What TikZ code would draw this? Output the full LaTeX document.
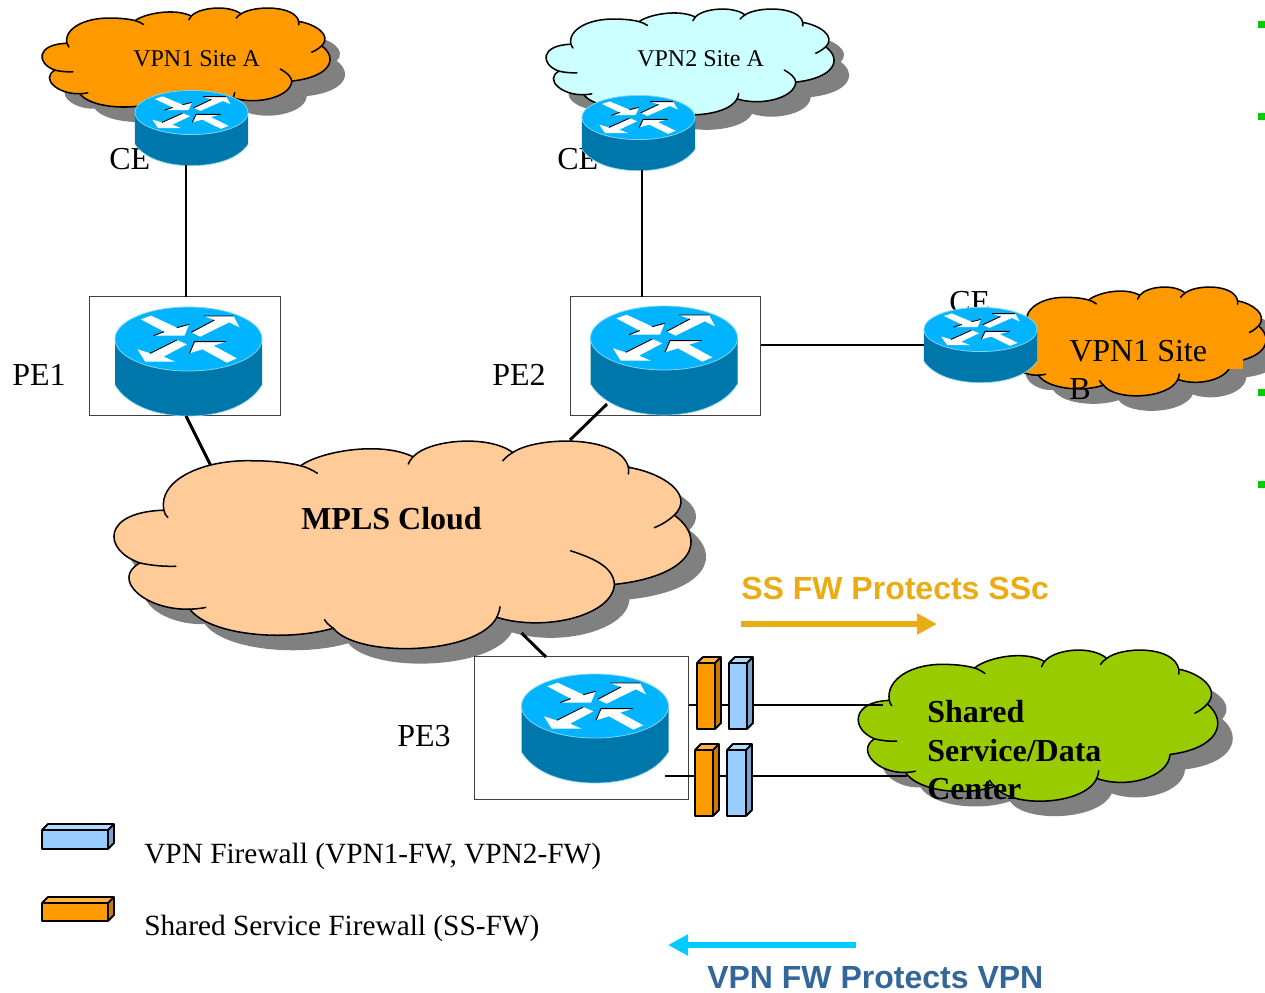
\documentclass[tikz,border=0pt]{standalone}
\usepackage{fontspec}
\setmainfont{Liberation Serif}
\newfontfamily\arialfont{Liberation Sans}
\usetikzlibrary{arrows.meta}
\definecolor{shadowgray}{HTML}{808080}
\definecolor{siteorange}{HTML}{FF9900}
\definecolor{sitecyan}{HTML}{CCFFFF}
\definecolor{mplspeach}{HTML}{FFCC99}
\definecolor{sharedgreen}{HTML}{99CC00}
\definecolor{routertop}{HTML}{00B4FF}
\definecolor{routerside}{HTML}{0077AA}
\definecolor{routeredge}{HTML}{7FD4F4}
\definecolor{fwblue}{HTML}{99CCFF}
\definecolor{fwblueside}{HTML}{7AA3CC}
\definecolor{fwbluetop}{HTML}{B3D9FF}
\definecolor{fworange}{HTML}{FF9900}
\definecolor{fworangeside}{HTML}{CC7A00}
\definecolor{fworangetop}{HTML}{FFB23F}
\definecolor{ssgold}{HTML}{EBAB13}
\definecolor{vpnblue}{HTML}{336699}
\definecolor{vpncyan}{HTML}{00CCFF}
\definecolor{bulletgreen}{HTML}{00CC00}
\tikzset{
  lab/.style={inner sep=0pt,anchor=base west,font=\fontsize{22}{26}\selectfont},
  sitelab/.style={inner sep=0pt,anchor=base west,font=\fontsize{18}{22}\selectfont},
  biglab/.style={inner sep=0pt,anchor=base west,font=\fontsize{24}{28}\selectfont},
  boldlab/.style={inner sep=0pt,anchor=north west,align=left,font=\fontsize{24}{29}\selectfont\bfseries},
  pebox/.style={draw=black!75,line width=0.7pt,fill=none,inner sep=0pt},
  thinlink/.style={draw=black,line width=1.1pt},
  thicklink/.style={draw=black,line width=2.2pt},
  cloudline/.style={draw=black,line width=1.15pt},
  fwline/.style={draw=black,line width=1.4pt,line join=round},
  flowarrow/.style={line width=4.8pt,-{Triangle[length=15pt,width=15pt]}},
  bullet/.style={fill=bulletgreen,draw=none}
}
\newcommand{\cloudoutline}{
  (165,240) .. controls (150,150) and (260,85) .. (390,90)
  .. controls (430,90) and (475,95) .. (508,105)
  .. controls (560,60) and (710,30) .. (790,78)
  .. controls (830,25) and (980,10) .. (1040,65)
  .. controls (1100,15) and (1310,10) .. (1330,110)
  .. controls (1410,125) and (1500,190) .. (1445,255)
  .. controls (1530,330) and (1490,440) .. (1295,465)
  .. controls (1290,560) and (1120,610) .. (1000,565)
  .. controls (950,680) and (650,690) .. (590,598)
  .. controls (470,640) and (280,620) .. (230,540)
  .. controls (120,545) and (30,450) .. (105,400)
  .. controls (10,360) and (10,245) .. (165,240) -- cycle
}
% \cloud{x0}{y0}{x1}{y1}{fill}{inner tick of the lower right lobe}
\newcommand{\cloud}[6]{
  \pgfmathsetmacro{\sxx}{(#3-#1)/1457}
  \pgfmathsetmacro{\syy}{(#4-#2)/625}
  \begin{scope}[shift={(#1+15,#2+15)},xscale=\sxx,yscale=\syy,shift={(-35,-30)}]
    \fill[shadowgray] \cloudoutline;
  \end{scope}
  \begin{scope}[shift={(#1,#2)},xscale=\sxx,yscale=\syy,shift={(-35,-30)}]
    \fill[#5] \cloudoutline;
    \draw[cloudline,line join=round] \cloudoutline;
    \draw[cloudline,line cap=round]
      (165,240) .. controls (166,250) and (170,255) .. (175,262)
      (508,105) .. controls (525,110) and (540,120) .. (550,128)
      (790,78) .. controls (785,85) and (780,92) .. (778,100)
      (1040,65) .. controls (1030,72) and (1022,80) .. (1015,90)
      (1330,110) .. controls (1331,115) and (1331,122) .. (1330,130)
      (1445,255) .. controls (1430,272) and (1412,285) .. (1395,293)
      #6
      (1000,565) .. controls (1004,555) and (1007,545) .. (1008,533)
      (590,598) .. controls (580,590) and (573,582) .. (568,572)
      (230,540) .. controls (245,540) and (258,538) .. (270,535)
      (105,400) .. controls (135,408) and (165,411) .. (195,410);
  \end{scope}
}
\newcommand{\longtick}{(1295,465) .. controls (1292,410) and (1240,385) .. (1185,363)}
\newcommand{\shorttick}{(1295,465) .. controls (1292,435) and (1265,412) .. (1237,393)}
% \router{name}{cx}{cy}{xs}{ys}
\newcommand{\router}[5]{
  \pgfmathsetmacro{\rw}{147*#4*0.75}
  \pgfmathsetmacro{\rh}{109*#5*0.75}
  \pgfmathsetmacro{\rcy}{#3+22.5*#5}
  \node[inner sep=0pt,minimum width=\rw pt,minimum height=\rh pt] (#1) at (#2,\rcy) {};
  \begin{scope}[shift={(#2,#3)},xscale=#4,yscale=#5]
    \fill[routerside] (-73.5,0) -- (-73.5,46) .. controls (-60,68) and (-30,77) .. (0,77)
      .. controls (30,77) and (60,68) .. (73.5,46) -- (73.5,0) -- cycle;
    \draw[routeredge,line width=0.5pt] (-73.5,46) .. controls (-60,68) and (-30,77) .. (0,77)
      .. controls (30,77) and (60,68) .. (73.5,46);
    \fill[routertop,draw=routeredge,line width=0.6pt] (0,0) ellipse [x radius=73.5,y radius=32];
    \begin{scope}[xscale=1/3,yscale=1/3,shift={(-325,-147)}]
      \fill[white] (182,88)--(213,77)--(290,113)--(327,103)--(313,137)--(220,137)--(252,125)--cycle;
      \fill[white] (333,127)--(403,90)--(370,78)--(460,78)--(478,112)--(447,97)--(360,140)--cycle;
      \fill[white] (320,163)--(290,150)--(210,190)--(172,178)--(195,215)--(285,215)--(250,200)--cycle;
      \fill[white] (470,205)--(440,218)--(367,178)--(328,190)--(343,155)--(438,155)--(400,167)--cycle;
      \draw[black,line width=0.7pt] (220,137)--(252,125) (290,113)--(327,103)
        (333,127)--(403,90) (370,78)--(460,78)
        (290,150)--(210,190)
        (328,190)--(343,155)--(438,155);
    \end{scope}
  \end{scope}
}
% \fwall{x0}{y0}{x1}{y1}{front}{side}{top}
\newcommand{\fwall}[7]{
  \fill[#7] (#1,#2)--(#1+6,#2-6)--(#3+6,#2-6)--(#3,#2)--cycle;
  \fill[#6] (#3,#2)--(#3+6,#2-6)--(#3+6,#4-6)--(#3,#4)--cycle;
  \fill[#5] (#1,#2) rectangle (#3,#4);
  \draw[fwline] (#1,#2) rectangle (#3,#4)
    (#1,#2)--(#1+6,#2-6)--(#3+6,#2-6)--(#3+6,#4-6)--(#3,#4)
    (#3,#2)--(#3+6,#2-6);
}
\begin{document}
\begin{tikzpicture}[x=0.75pt,y=-0.75pt]
\useasboundingbox (0,0) rectangle (1265,993);
\clip (0,0) rectangle (1265,993);

% bullets at the right edge
\fill[bullet] (1258,21) rectangle (1265,28);
\fill[bullet] (1258,113) rectangle (1265,120);
\fill[bullet] (1258,389) rectangle (1265,396);
\fill[bullet] (1258,481) rectangle (1265,488);

% clouds
\cloud{41}{8}{331}{113}{siteorange}{\shorttick}
\cloud{545}{9}{835}{114}{sitecyan}{\shorttick}
\cloud{1003}{287}{1267}{395}{siteorange}{\shorttick}
\cloud{112}{441}{693}{647}{mplspeach}{\longtick}
\cloud{857}{650}{1219}{800}{sharedgreen}{}
\fill[siteorange] (1037,333) rectangle (1243,369);

% peering boxes
\node[pebox,minimum width=143.25pt,minimum height=89.25pt] (pe1box) at (185,356) {};
\node[pebox,minimum width=142.5pt,minimum height=89.25pt] (pe2box) at (665.5,356) {};
\node[pebox,minimum width=160.5pt,minimum height=107.25pt] (pe3box) at (581.5,728) {};

% labels that the routers partly cover
\node[biglab] (ce1lab) at (109,169) {CE};
\node[biglab] (ce2lab) at (557,169) {CE};
\node[biglab] (ce3lab) at (949,312) {CE};

% routers
\router{ce1}{191.5}{112.5}{0.77}{0.69}
\router{ce2}{638.5}{117.5}{0.77}{0.69}
\router{ce3}{980.5}{329.5}{0.77}{0.69}
\router{pe1}{188.5}{339}{1}{1}
\router{pe2}{664}{338}{1}{1}
\router{pe3}{595}{706}{1}{1}

% connector ends
\coordinate (a1) at (186,165);
\coordinate (a2) at (186,297);
\coordinate (b1) at (642,170);
\coordinate (b2) at (642,297);
\coordinate (c1) at (761,345);
\coordinate (c2) at (924,345);
\coordinate (d1) at (186,416);
\coordinate (d2) at (210.5,465);
\coordinate (e1) at (607,404);
\coordinate (e2) at (570,440);
\coordinate (f1) at (521.5,633);
\coordinate (f2) at (546,657);
\coordinate (g1) at (689,705);
\coordinate (g2) at (883,705);
\coordinate (h1) at (665,776);
\coordinate (h2) at (907,776);

\draw[thinlink] (a1)--(a2);
\draw[thinlink] (b1)--(b2);
\draw[thinlink] (c1)--(c2);
\draw[thicklink] (d1)--(d2);
\draw[thicklink] (e1)--(e2);
\draw[thicklink] (f1)--(f2);
\draw[thinlink] (g1)--(g2);
\draw[thinlink] (h1)--(h2);

% firewalls
\fwall{697}{663}{715}{729}{fworange}{fworangeside}{fworangetop}
\fwall{729}{663}{747}{729}{fwblue}{fwblueside}{fwbluetop}
\fwall{695}{750}{713}{816}{fworange}{fworangeside}{fworangetop}
\fwall{727}{750}{746}{816}{fwblue}{fwblueside}{fwbluetop}
\fwall{42}{830}{108}{849}{fwblue}{fwblueside}{fwbluetop}
\fwall{42}{903}{108}{921}{fworange}{fworangeside}{fworangetop}

% texts
\node[sitelab] (t1) at (133,66) {VPN1 Site A};
\node[sitelab] (t2) at (637,66) {VPN2 Site A};
\node[biglab] (t3) at (12,385) {PE1};
\node[biglab] (t4) at (492,385) {PE2};
\node[biglab] (t5) at (397,746) {PE3};
\node[inner sep=0pt,anchor=north west,align=left,font=\fontsize{24}{28.5}\selectfont] (t6) at (1069,340) {VPN1 Site\\B};
\node[boldlab] (t7) at (301,507) {MPLS Cloud};
\node[boldlab] (t8) at (927,700) {Shared\\Service/Data\\Center};
\node[lab] (t9) at (144,863) {VPN Firewall (VPN1-FW, VPN2-FW)};
\node[lab] (t10) at (144,935) {Shared Service Firewall (SS-FW)};
\node[inner sep=0pt,anchor=base west,text=ssgold,font=\arialfont\fontsize{24}{28}\selectfont\bfseries] (t11) at (741,599) {SS FW Protects SSc};
\node[inner sep=0pt,anchor=base west,text=vpnblue,font=\arialfont\fontsize{24}{28}\selectfont\bfseries] (t12) at (707,988) {VPN FW Protects VPN};

% flow arrows
\coordinate (s1) at (741,624);
\coordinate (s2) at (937,624);
\coordinate (v1) at (856,945);
\coordinate (v2) at (668,945);
\draw[flowarrow,ssgold] (s1)--(s2);
\draw[flowarrow,vpncyan] (v1)--(v2);
\end{tikzpicture}
\end{document}
